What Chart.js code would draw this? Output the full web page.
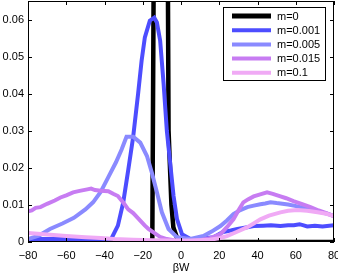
<!DOCTYPE html>
<html>
<head>
<meta charset="utf-8">
<script src="https://cdn.jsdelivr.net/npm/chart.js@4"></script>
<style>
html, body { margin: 0; padding: 0; background: #fff; }
#wrap { width: 338px; height: 277px; }
</style>
</head>
<body>
<div id="wrap"><canvas id="dist"></canvas></div>
<script>
const labels = ['m=0', 'm=0.001', 'm=0.005', 'm=0.015', 'm=0.1']
const colors = ['#000000', '#4d4dff', '#8a8aff', '#c77cf2', '#f0aaf5']
const xTicks = [-80, -60, -40, -20, 0, 20, 40, 60, 80]
const yTicks = [0, 0.01, 0.02, 0.03, 0.04, 0.05, 0.06]

// m=0
const x0 = [-80, -15, -13, -8, -6.5, -5, -4, -2, 0, 80]
const y0 = [0, 0, 0.2, 0.2, 0.03, 0.01, 0.004, 0.001, 0, 0]

// m=0.001
const x1 = [-80, -60, -45, -38, -36.4, -33, -30.2, -27.6, -25, -22.4, -20.6, -18.9, -16.3, -14, -12.6, -10.9, -9.1, -7.4, -5.6, -3.9, -2.1, 0.5, 4.9, 8, 12, 17, 22, 26, 29.5, 34, 38, 43, 47, 52, 56, 59, 62, 66, 70, 74, 80]
const y1 = [0.0008, 0.0008, 0.0008, 0.0008, 0.0009, 0.0044, 0.0107, 0.0194, 0.0284, 0.0401, 0.0489, 0.0552, 0.0597, 0.0605, 0.0592, 0.0543, 0.0427, 0.0300, 0.0210, 0.0124, 0.0062, 0.0021, 0.0008, 0.0008, 0.001, 0.0013, 0.0027, 0.0031, 0.0035, 0.0039, 0.0043, 0.0044, 0.0045, 0.0043, 0.0045, 0.0045, 0.0048, 0.0042, 0.0044, 0.0042, 0.0045]

// m=0.005
const x2 = [-80, -74, -68.5, -62, -56, -50, -46, -42, -38, -34, -31, -28.5, -25, -21.3, -17.8, -15.2, -12.6, -10, -6.5, -2.1, 4.9, 11.7, 16, 20.6, 24, 27.4, 31, 34.7, 38, 41.5, 44, 46.8, 50, 52, 56, 60.9, 64, 67.7, 72, 76, 80]
const y2 = [0.0008, 0.0018, 0.0035, 0.005, 0.0065, 0.0088, 0.0107, 0.0135, 0.0175, 0.0215, 0.025, 0.0284, 0.0284, 0.0268, 0.0232, 0.0186, 0.0134, 0.008, 0.0035, 0.0013, 0.0008, 0.0016, 0.0028, 0.0043, 0.0058, 0.0075, 0.0086, 0.0094, 0.0098, 0.0102, 0.0104, 0.0107, 0.0105, 0.0104, 0.0101, 0.0096, 0.0092, 0.0088, 0.0082, 0.0077, 0.007]

// m=0.015
const x3 = [-80, -78, -76, -73.5, -70, -66, -63, -60, -56.4, -53, -49, -47, -45, -42, -38, -35.5, -33, -30, -27.6, -25, -22.4, -19, -17, -14.4, -11, -7.4, -3, 0, 5, 10, 15, 20.6, 24, 27.4, 30, 32.6, 35, 38, 41, 45, 48, 52, 55, 58.8, 63, 67.7, 72, 76, 80]
const y3 = [0.0083, 0.0085, 0.0092, 0.0094, 0.0103, 0.0112, 0.012, 0.0126, 0.0134, 0.0138, 0.0142, 0.0144, 0.014, 0.0138, 0.0137, 0.013, 0.0124, 0.0105, 0.0088, 0.0078, 0.0064, 0.0045, 0.0035, 0.0026, 0.0014, 0.0008, 0.0004, 0.0003, 0.0003, 0.0005, 0.001, 0.0021, 0.004, 0.0061, 0.0085, 0.0107, 0.0115, 0.0123, 0.0128, 0.0134, 0.013, 0.0123, 0.0118, 0.011, 0.0103, 0.0094, 0.0085, 0.0078, 0.007]

// m=0.1
const x4 = [-80, -70, -60, -50, -42, -35, -25, -15, -5, 5, 15, 20, 24, 29, 34.7, 38, 41.5, 46, 52, 56, 60.9, 66, 71.4, 76, 80]
const y4 = [0.0024, 0.002, 0.0016, 0.0013, 0.0011, 0.0008, 0.0006, 0.0005, 0.0004, 0.0004, 0.0006, 0.001, 0.0016, 0.0027, 0.004, 0.005, 0.0061, 0.0071, 0.008, 0.0084, 0.0086, 0.0084, 0.008, 0.0076, 0.007]

const xs = [x0, x1, x2, x3, x4]
const ys = [y0, y1, y2, y3, y4]

const fontFamily = '"Liberation Sans", Arial, sans-serif'

const frame = {
    id: 'frame',
    afterDatasetsDraw(chart) {
        const { ctx, chartArea: a, scales: { x, y } } = chart
        ctx.save()
        ctx.strokeStyle = '#000'
        ctx.lineWidth = 1
        ctx.strokeRect(a.left + 0.5, a.top + 0.5, a.right - a.left - 1, a.bottom - a.top - 1)
        ctx.beginPath()
        xTicks.forEach(v => {
            const px = Math.round(x.getPixelForValue(v)) + 0.5
            ctx.moveTo(px, a.bottom); ctx.lineTo(px, a.bottom - 4)
            ctx.moveTo(px, a.top); ctx.lineTo(px, a.top + 4)
        })
        yTicks.forEach(v => {
            const py = Math.round(y.getPixelForValue(v)) + 0.5
            ctx.moveTo(a.left, py); ctx.lineTo(a.left + 4, py)
            ctx.moveTo(a.right, py); ctx.lineTo(a.right - 4, py)
        })
        ctx.stroke()
        ctx.restore()
    }
}

// legend box inside the top right corner
const boxLegend = {
    id: 'boxLegend',
    afterDraw(chart) {
        const ctx = chart.ctx
        const a = chart.chartArea
        const right = a.right - 8, top = a.top + 6
        const w = 103, h = 74
        ctx.save()
        ctx.fillStyle = '#fff'
        ctx.fillRect(right - w, top, w, h)
        ctx.strokeStyle = '#000'
        ctx.lineWidth = 1
        ctx.strokeRect(right - w + 0.5, top + 0.5, w - 1, h - 1)
        ctx.font = '11px ' + fontFamily
        ctx.textBaseline = 'middle'
        chart.data.datasets.forEach((ds, i) => {
            const ly = top + 9 + i * 14.2
            ctx.strokeStyle = ds.borderColor
            ctx.lineWidth = i === 0 ? 5 : 4
            ctx.beginPath()
            ctx.moveTo(right - w + 9, ly)
            ctx.lineTo(right - w + 48, ly)
            ctx.stroke()
            ctx.fillStyle = '#000'
            ctx.fillText(ds.label, right - w + 54, ly + 0.5)
        })
        ctx.restore()
    }
}

const dist = new Chart(
    document.getElementById('dist'),
    {
        type: 'line',
        data: {
            datasets: labels.map((label, i) => ({
                label: label,
                data: xs[i].map((v, j) => ({ x: v, y: ys[i][j] })),
                borderColor: colors[i],
                backgroundColor: colors[i],
                borderWidth: i === 0 ? 4.5 : 4,
                pointRadius: 0,
                tension: 0,
                fill: false,
                order: labels.length - i,
            }))
        },
        options: {
            responsive: true,
            maintainAspectRatio: false,
            animation: false,
            layout: { padding: { top: 1, right: 4, left: 0, bottom: 2 } },
            scales: {
                x: {
                    type: 'linear',
                    min: -80,
                    max: 80,
                    afterBuildTicks: s => { s.ticks = xTicks.map(v => ({ value: v })) },
                    afterFit: s => { s.height = 33; s.paddingLeft = 0; s.paddingRight = 0 },
                    grid: { display: false, drawTicks: false },
                    border: { display: false },
                    ticks: {
                        padding: 7,
                        color: '#000',
                        font: { family: fontFamily, size: 11 },
                        maxRotation: 0,
                        callback: v => v < 0 ? '\u2212' + Math.abs(v) : String(v),
                    },
                    title: {
                        display: true,
                        text: 'βW',
                        color: '#000',
                        font: { family: fontFamily, size: 11 },
                        padding: { top: 0, bottom: 0 },
                    },
                },
                y: {
                    type: 'linear',
                    min: 0,
                    max: 0.065,
                    afterBuildTicks: s => { s.ticks = yTicks.map(v => ({ value: v })) },
                    afterFit: s => { s.width = 28; s.paddingTop = 0; s.paddingBottom = 0 },
                    grid: { display: false, drawTicks: false },
                    border: { display: false },
                    ticks: {
                        padding: 4,
                        color: '#000',
                        font: { family: fontFamily, size: 11 },
                        callback: v => v === 0 ? '0' : v.toFixed(2),
                    },
                },
            },
            plugins: {
                legend: { display: false },
                tooltip: { enabled: false },
            },
        },
        plugins: [frame, boxLegend]
    }
)
</script>
</body>
</html>
